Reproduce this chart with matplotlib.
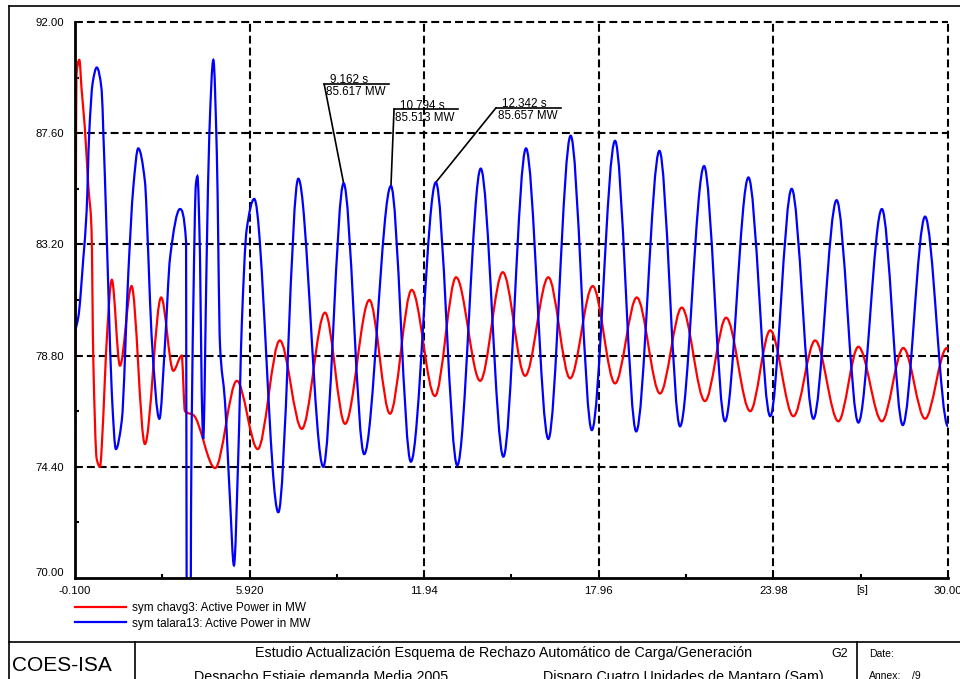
import matplotlib
matplotlib.use("Agg")
import numpy as np
import matplotlib.pyplot as plt
from matplotlib.lines import Line2D
from matplotlib.path import Path
from matplotlib.patches import PathPatch
from matplotlib.transforms import blended_transform_factory

plt.rcParams['font.family'] = ['Liberation Sans', 'DejaVu Sans']

# sym chavg3 active power (turning points)
red_t = [-0.10, -0.05, 0.05, 0.13, 0.24, 0.36, 0.47, 0.53, 0.65, 0.76, 0.88, 0.97,
         1.17, 1.45, 1.85, 2.31, 2.87, 3.29, 3.58, 3.69, 3.98, 4.73, 5.48, 6.20,
         6.96, 7.72, 8.52, 9.21, 10.05, 10.76, 11.51, 12.31, 13.04, 13.87, 14.65,
         15.42, 16.22, 16.97, 17.75, 18.52, 19.27, 20.07, 20.82, 21.62, 22.35,
         23.18, 23.87, 24.67, 25.42, 26.22, 26.91, 27.72, 28.46, 29.21, 29.96, 30.0]
red_mw = [75.1, 89.9, 90.5, 89.3, 87.8, 85.5, 83.8, 78.7, 74.7, 74.4, 76.5, 78.9,
          81.8, 78.4, 81.55, 75.3, 81.1, 78.2, 78.8, 76.6, 76.45, 74.35, 77.8, 75.1,
          79.4, 75.9, 80.5, 76.1, 81.0, 76.5, 81.4, 77.2, 81.9, 77.8, 82.1,
          78.0, 81.9, 77.9, 81.55, 77.7, 81.1, 77.3, 80.7, 77.0, 80.3,
          76.6, 79.8, 76.4, 79.4, 76.2, 79.15, 76.2, 79.1, 76.3, 79.1, 79.05]

# sym talara13 active power
blue_t = [-0.10, 0.01, 0.19, 0.30, 0.39, 0.51, 0.65, 0.82, 0.88, 0.93, 1.05, 1.17,
          1.31, 1.51, 1.74, 1.91, 2.08, 2.31, 2.43, 2.54, 2.81, 3.00, 3.18, 3.52,
          3.73, 3.75, 3.89, 3.90, 3.98, 4.07, 4.12, 4.21, 4.27, 4.32, 4.44, 4.53,
          4.67, 4.79, 4.90, 5.07, 5.24, 5.38, 5.53, 5.65, 5.82, 6.08, 6.91, 7.60,
          8.46, 9.162, 9.87, 10.794, 11.48, 12.342, 13.08, 13.89, 14.67, 15.45,
          16.22, 16.99, 17.72, 18.52, 19.25, 20.05, 20.76, 21.59, 22.31, 23.12,
          23.87, 24.61, 25.36, 26.16, 26.91, 27.72, 28.44, 29.21, 30.0]
blue_mw = [79.85, 80.3, 82.7, 84.5, 87.6, 89.6, 90.2, 89.3, 87.5, 85.9, 81.4, 77.3,
           75.1, 76.2, 82.1, 85.45, 87.0, 85.7, 82.7, 79.6, 76.3, 79.2, 82.7, 84.6,
           83.3, 69.0, 69.0, 72.5, 80.8, 85.6, 85.9, 82.7, 77.3, 75.5, 82.7, 87.5,
           90.5, 86.8, 79.2, 77.0, 73.2, 70.5, 74.85, 80.0, 83.8, 85.0, 72.6, 85.8,
           74.4, 85.617, 74.9, 85.513, 74.6, 85.657, 74.45, 86.2, 74.8, 87.0,
           75.5, 87.5, 75.85, 87.3, 75.8, 86.9, 76.0, 86.3, 76.2, 85.85,
           76.4, 85.4, 76.3, 84.95, 76.15, 84.6, 76.05, 84.3, 76.0]

series_labels = ['sym chavg3: Active Power in MW', 'sym talara13: Active Power in MW']
series_colors = ['#ff0000', '#0000ff']

xticks = [-0.1, 5.92, 11.94, 17.96, 23.98, 30.0]
xtick_labels = ['-0.100', '5.920', '11.94', '17.96', '23.98', '30.00']
yticks = [70.0, 74.4, 78.8, 83.2, 87.6, 92.0]
ytick_labels = ['70.00', '74.40', '78.80', '83.20', '87.60', '92.00']

# cursor markers on the blue curve
marker_t = [9.162, 10.794, 12.342]
marker_mw = [85.617, 85.513, 85.657]
# where each marker label sits (left end of its rule), data units
label_x = [8.49, 10.90, 14.42]
label_y = [89.55, 88.55, 88.61]
label_w = 2.22

W, H = 960, 679


def fx(px):
    return px / W


def fy(py):
    return 1 - py / H


def smooth_path(t, y):
    # monotone cubic bezier through the read points (flat at turning points)
    t = np.asarray(t, float)
    y = np.asarray(y, float)
    h = np.diff(t)
    d = np.diff(y) / h
    m = np.zeros_like(y)
    for k in range(1, len(y) - 1):
        if d[k - 1] * d[k] > 0:
            w1 = 2 * h[k] + h[k - 1]
            w2 = h[k] + 2 * h[k - 1]
            m[k] = (w1 + w2) / (w1 / d[k - 1] + w2 / d[k])
    verts = [(t[0], y[0])]
    codes = [Path.MOVETO]
    for k in range(len(h)):
        verts += [(t[k] + h[k] / 3, y[k] + m[k] * h[k] / 3),
                  (t[k + 1] - h[k] / 3, y[k + 1] - m[k + 1] * h[k] / 3),
                  (t[k + 1], y[k + 1])]
        codes += [Path.CURVE4] * 3
    return Path(verts, codes)


fig = plt.figure(figsize=(W / 100, H / 100), dpi=100)
ax = fig.add_axes([fx(75), fy(578), 873 / W, 556 / H])
ax.set_xlim(-0.1, 30.0)
ax.set_ylim(70, 92)

dash = (3.8, 1.9)
for y in yticks[1:]:
    ax.axhline(y, color='k', lw=1.5, dashes=dash, zorder=1, clip_on=False)
for x in xticks[1:]:
    ax.axvline(x, color='k', lw=1.5, dashes=dash, zorder=1, clip_on=False)

for i, (ts, vs) in enumerate([(red_t, red_mw), (blue_t, blue_mw)]):
    ax.add_patch(PathPatch(smooth_path(ts, vs), facecolor='none',
                           edgecolor=series_colors[i], lw=1.6, zorder=3 + i))

for s in ['top', 'right']:
    ax.spines[s].set_visible(False)
for s in ['left', 'bottom']:
    ax.spines[s].set_linewidth(2)
    ax.spines[s].set_zorder(5)

ax.set_xticks(xticks, xtick_labels)
ax.set_yticks(yticks, ytick_labels)
ax.set_xticks([(a + b) / 2 for a, b in zip(xticks[:-1], xticks[1:])], minor=True)
ax.set_yticks([(a + b) / 2 for a, b in zip(yticks[:-1], yticks[1:])], minor=True)
ax.tick_params(which='major', length=0, labelsize=8.2)
ax.tick_params(axis='x', which='major', pad=6)
ax.tick_params(axis='y', which='major', pad=8)
ax.tick_params(which='minor', direction='in', length=3, width=1.5)
ax.get_yticklabels()[0].set_verticalalignment('bottom')

tr = blended_transform_factory(ax.transData, ax.transAxes)
ax.text(27.04, -0.0125, '[s]', transform=tr, ha='center', va='top', fontsize=8.2)

for t, mw, lx, ly in zip(marker_t, marker_mw, label_x, label_y):
    ax.annotate('', xy=(t, mw), xytext=(lx, ly),
                arrowprops=dict(arrowstyle='-', color='k', lw=1.2,
                                shrinkA=0, shrinkB=0))
    ax.plot([lx, lx + label_w], [ly, ly], color='k', lw=1.2)
    ax.text(lx + 0.2, ly + 0.02, f'{t:.3f} s', fontsize=8.4, va='baseline')
    ax.text(lx + 0.05, ly - 0.1, f'{mw:.3f} MW', fontsize=8.4, va='top')

handles = [Line2D([], [], color=c, lw=1.6) for c in series_colors]
ax.legend(handles, series_labels, loc='upper left',
          bbox_to_anchor=(fx(75), fy(602)), bbox_transform=fig.transFigure,
          frameon=False, fontsize=8.5, handlelength=4.3, handletextpad=0.5,
          labelspacing=0.3, borderpad=0, borderaxespad=0)

# page frame and title block
frame = [((9, 960), (6, 6)), ((9, 9), (6, 679)), ((9, 960), (642, 642)),
         ((135, 135), (642, 679)), ((857, 857), (642, 679))]
for xs, ys in frame:
    fig.add_artist(Line2D([fx(v) for v in xs], [fy(v) for v in ys],
                          color='k', lw=1.2, transform=fig.transFigure))

fig.text(fx(12), fy(671), 'COES-ISA', fontsize=15)
fig.text(fx(255), fy(657),
         'Estudio Actualización Esquema de Rechazo Automático de Carga/Generación',
         fontsize=10.3)
fig.text(fx(831), fy(657), 'G2', fontsize=9)
fig.text(fx(194), fy(681), 'Despacho Estiaje demanda Media 2005', fontsize=10.3)
fig.text(fx(543), fy(681), 'Disparo Cuatro Unidades de Mantaro (Sam)', fontsize=10.3)
fig.text(fx(869), fy(657), 'Date:', fontsize=7.5)
fig.text(fx(869), fy(679), 'Annex:', fontsize=7.5)
fig.text(fx(912), fy(679), '/9', fontsize=7.5)

fig.savefig('out.png', dpi=100)
